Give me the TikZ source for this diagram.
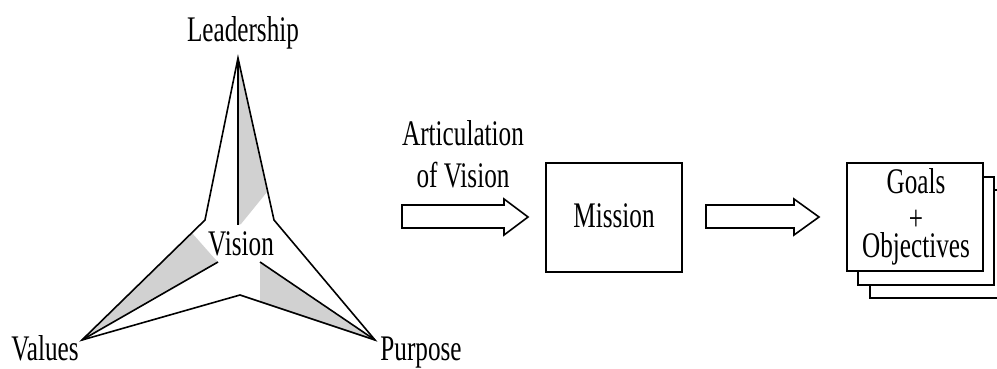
\documentclass[tikz,border=0pt]{standalone}
\usepackage{fontspec}
\setmainfont{Liberation Serif}
\newfontfamily\lblfont[FakeStretch=0.7]{Liberation Serif}
\begin{document}
\begin{tikzpicture}[x=1pt,y=-1pt,
  lbl/.style={font=\lblfont\fontsize{36}{32}\selectfont, inner sep=0pt, anchor=base},
  edge/.style={line width=1.6pt, line join=miter},
  shade/.style={fill=black!18, draw=none},
  blockarrow/.style={draw, line width=1.6pt, fill=white, line join=miter},
  card/.style={draw, line width=1.6pt, fill=white}]
\path[use as bounding box] (0,0) rectangle (997,369);
\clip (0,0) rectangle (997,369);
% star points
\coordinate (T) at (238,58);
\coordinate (V) at (82,340);
\coordinate (P) at (375,340);
\coordinate (UL) at (205,220);
\coordinate (UR) at (274,220);
\coordinate (B) at (240,295);
\coordinate (Ti) at (238,225);
\coordinate (Vi) at (218,262);
\coordinate (Pi) at (260,262);
% gray shading
\fill[shade] (T) -- (267,192) -- (241,224) -- (Ti) -- cycle;
\fill[shade] (V) -- (192,233) -- (215,259) -- (Vi) -- cycle;
\fill[shade] (Pi) -- (P) -- (260,301.7) -- cycle;
% outline
\draw[edge] (T) -- (UR) -- (P) -- (B) -- (V) -- (UL) -- cycle;
\draw[edge] (T) -- (Ti);
\draw[edge] (V) -- (Vi);
\draw[edge] (P) -- (Pi);
% labels
\node[lbl] (lead) at (243,42) {Leadership};
\node[lbl] (vision) at (241,255) {Vision};
\node[lbl] (values) at (45,360) {Values};
\node[lbl] (purpose) at (421,360) {Purpose};
\node[lbl] (artic) at (463,145) {Articulation};
\node[lbl] (ofvis) at (463,187) {of Vision};
% block arrows
\draw[blockarrow] (402,205) -- (504,205) -- (504,199) -- (528,217) -- (504,235) -- (504,228) -- (402,228) -- cycle;
\draw[blockarrow] (706,205) -- (794,205) -- (794,199) -- (819,217) -- (794,235) -- (794,228) -- (706,228) -- cycle;
% mission box
\draw[card] (546,163) rectangle (682,272);
\node[lbl] (mission) at (614,227) {Mission};
% goals stack
\draw[card] (870,190) rectangle (1010,298);
\draw[card] (858,177) rectangle (994,285);
\draw[card] (847,163) rectangle (983,271);
\node[lbl, anchor=center, align=center] (goals) at (916,217) {Goals\\\raisebox{-5pt}{+}\\Objectives};
\end{tikzpicture}
\end{document}
